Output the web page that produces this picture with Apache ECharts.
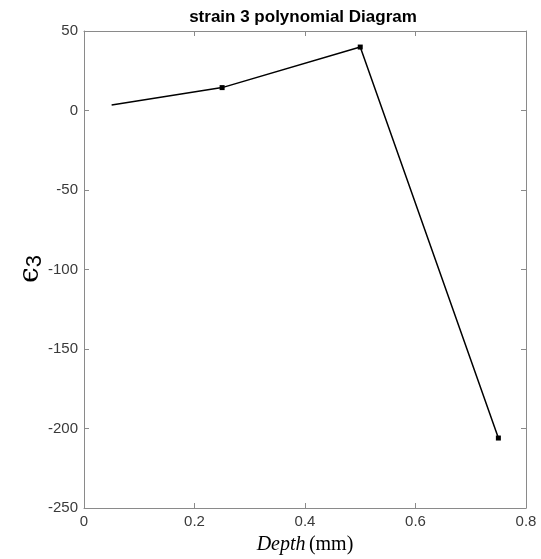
<!DOCTYPE html>
<html>
<head>
<meta charset="utf-8">
<script src="https://cdn.jsdelivr.net/npm/echarts@6/dist/echarts.min.js"></script>
<style>html,body{margin:0;padding:0;background:#fff;}#c{width:541px;height:559px;}</style>
</head>
<body>
<div id="c"></div>
<script>
var depth = [0.05, 0.25, 0.5, 0.75];
var strain = [3.5, 14.4, 39.9, -206];
var markerShown = [false, true, true, true];
var xTicks = [0, 0.2, 0.4, 0.6, 0.8];
var yTicks = [-250, -200, -150, -100, -50, 0, 50];

var data = depth.map(function (d, i) {
  return { value: [d, strain[i]], symbol: markerShown[i] ? 'rect' : 'none' };
});
var axisGray = '#8a8a8a';
var labelStyle = { color: '#3a3a3a', fontSize: 15, fontFamily: 'Liberation Sans, Arial, sans-serif' };
function boxAxis(pos, min, max, interval) {
  return {
    type: 'value', position: pos, min: min, max: max, interval: interval,
    axisLine: { show: true, onZero: false, lineStyle: { color: axisGray, width: 1 } },
    axisTick: { show: true, inside: true, length: 5, lineStyle: { color: axisGray } },
    axisLabel: { show: false }, splitLine: { show: false }
  };
}
var chart = echarts.init(document.getElementById('c'));
chart.setOption({
  animation: false,
  title: {
    text: 'strain 3 polynomial Diagram',
    left: 298, top: 4, textAlign: 'center',
    textStyle: { fontSize: 17, fontWeight: 'bold', color: '#000', fontFamily: 'Liberation Sans, Arial, sans-serif' }
  },
  graphic: [{
    type: 'text', x: 31, y: 269, rotation: Math.PI / 2,
    style: {
      text: '{e|ϵ}{s|3}', align: 'center', verticalAlign: 'middle',
      rich: {
        e: { fontSize: 28, fontFamily: 'DejaVu Serif, serif', fill: '#000' },
        s: { fontSize: 22, fontFamily: 'Liberation Sans, Arial, sans-serif', fill: '#000', padding: [8, 0, 0, 0] }
      }
    }
  }],
  grid: { left: 84, right: 15, top: 31, bottom: 51, containLabel: false, outerBoundsMode: 'none' },
  xAxis: [{
    type: 'value', position: 'bottom', min: xTicks[0], max: xTicks[xTicks.length - 1], interval: 0.2,
    axisLine: { show: true, onZero: false, lineStyle: { color: axisGray, width: 1 } },
    axisTick: { show: true, inside: true, length: 5, lineStyle: { color: axisGray } },
    splitLine: { show: false },
    axisLabel: Object.assign({ margin: 6 }, labelStyle),
    name: '{i|Depth} {n|(mm)}', nameLocation: 'middle', nameGap: 27,
    nameTextStyle: { rich: {
      i: { fontStyle: 'italic', fontSize: 20, fontFamily: 'Liberation Serif, Times New Roman, serif', color: '#000' },
      n: { fontSize: 20, fontFamily: 'Liberation Serif, Times New Roman, serif', color: '#000' }
    } }
  }, boxAxis('top', 0, 0.8, 0.2)],
  yAxis: [{
    type: 'value', position: 'left', min: yTicks[0], max: yTicks[yTicks.length - 1], interval: 50,
    axisLine: { show: true, onZero: false, lineStyle: { color: axisGray, width: 1 } },
    axisTick: { show: true, inside: true, length: 5, lineStyle: { color: axisGray } },
    splitLine: { show: false },
    axisLabel: Object.assign({ margin: 6 }, labelStyle)
  }, boxAxis('right', -250, 50, 50)],
  series: [{
    type: 'line', data: data, symbolSize: 5,
    lineStyle: { color: '#000', width: 1.5 },
    itemStyle: { color: '#000' }
  }]
});
</script>
</body>
</html>
